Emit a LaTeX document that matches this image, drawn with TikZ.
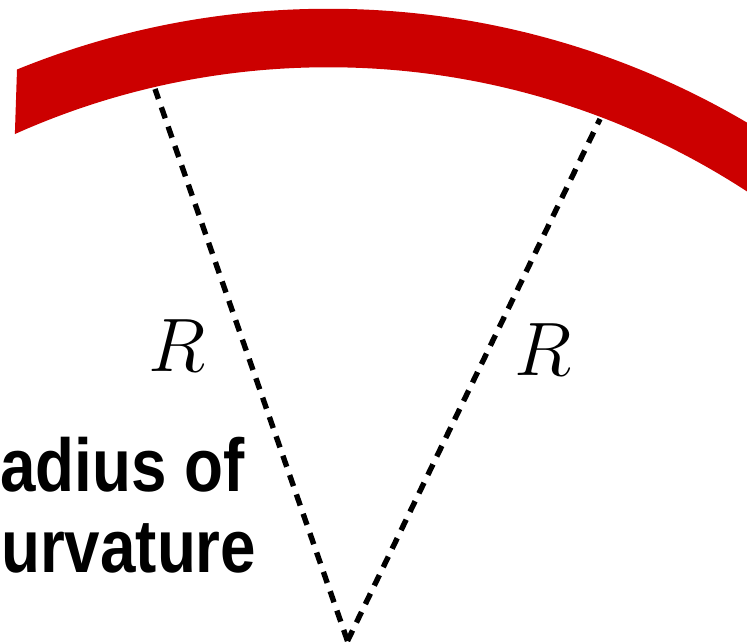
\documentclass[tikz,border=0pt]{standalone}
\usepackage{fontspec}
\newfontfamily\labelsans{Liberation Sans}
\definecolor{bandred}{RGB}{204,0,0}
\begin{document}
\begin{tikzpicture}[x=0.03cm,y=0.03cm,
  radiusline/.style={line width=4.6pt,dash pattern=on 10pt off 7.5pt,black},
  rlabel/.style={inner sep=0pt,scale=2.6,font=\Huge},
  titletext/.style={inner sep=0pt,xscale=0.85,font=\labelsans\bfseries\fontsize{64}{69}\selectfont}]
\useasboundingbox (0,0) rectangle (747,642);
\coordinate (C) at (328.4,-192.3);
\coordinate (O) at (347.5,1);
\coordinate (A) at (155,553);
\coordinate (B) at (600,523);
% radius lines
\draw[radiusline] (O) -- (A);
\draw[radiusline] (O) -- (B);
% red band
\begin{scope}
  \clip (19.3,642) -- (11.3,400) -- (747,400) -- (747,642) -- cycle;
  \fill[bandred,even odd rule] (C) circle[radius=24.765cm] (C) circle[radius=23.01cm];
\end{scope}
% labels
\node[rlabel] (rl) at (177,296) {$R$};
\node[rlabel] (rr) at (543,292) {$R$};
\node[titletext,anchor=base west] (t1) at (0,150) {adius of};
\node[titletext,anchor=base west] (t2) at (1,69) {urvature};
\end{tikzpicture}
\end{document}
